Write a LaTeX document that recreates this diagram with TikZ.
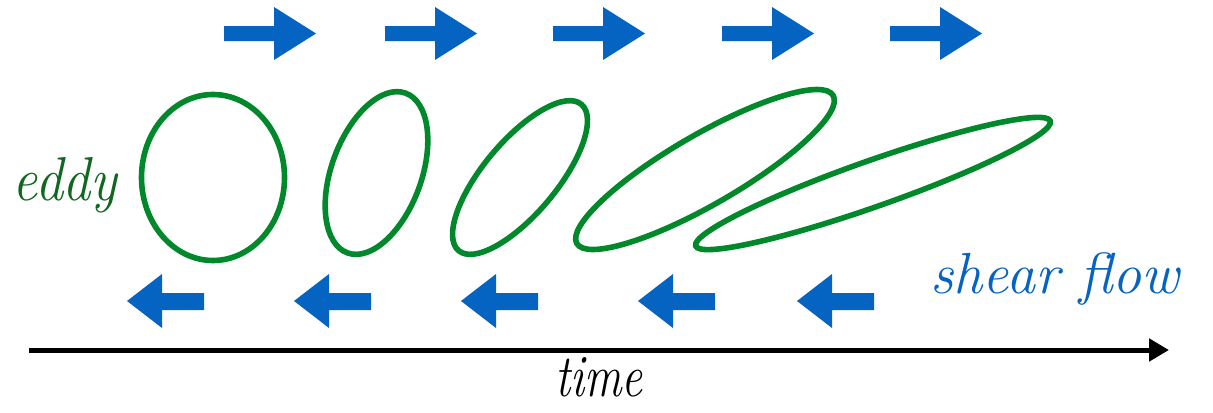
\documentclass[tikz,border=0pt]{standalone}
\usepackage{fontspec}
\usetikzlibrary{arrows.meta}
\definecolor{flowblue}{RGB}{5,99,193}
\definecolor{eddygreen}{RGB}{0,136,43}
\definecolor{wordgreen}{RGB}{16,104,32}

\begin{document}
\begin{tikzpicture}[x=0.5pt,y=-0.5pt,
        eddyline/.style={eddygreen, line width=2.8pt},
        word/.style={anchor=base, inner sep=0pt}]
    \useasboundingbox (0,0) rectangle (1213,412);
    % flow along the top, to the right
    \foreach \x in {224,385,553,722,890}
        \fill[flowblue] (\x,26) -- (\x+50,26) -- (\x+50,7) -- (\x+92,33.5) -- (\x+50,60) -- (\x+50,41) -- (\x,41) -- cycle;
    % flow along the bottom, to the left
    \foreach \x in {127,294,461,638,797}
        \fill[flowblue] (\x,301) -- (\x+35,274) -- (\x+35,293) -- (\x+77,293) -- (\x+77,310) -- (\x+35,310) -- (\x+35,328) -- cycle;
    % the eddy, stretched more and more
    \draw[eddyline] (213,177.5) ellipse [x radius=71.5, y radius=83];
    \draw[eddyline, rotate around={70:(376.5,173)}] (376.5,173) ellipse [x radius=85, y radius=45];
    \draw[eddyline, rotate around={50:(520,177.5)}] (520,177.5) ellipse [x radius=95.5, y radius=36.5];
    \draw[eddyline, rotate around={30:(705,169.5)}] (705,169.5) ellipse [x radius=148, y radius=35];
    \draw[eddyline, rotate around={19.4:(873,183.5)}] (873,183.5) ellipse [x radius=188, y radius=23];
    \node[word, wordgreen, font=\itshape\fontsize{31}{31}\selectfont, xscale=0.9] (eddy) at (65,200) {eddy};
    \node[word, flowblue, font=\itshape\fontsize{29}{29}\selectfont\addfontfeature{LetterSpace=7}] (shear) at (1055,293) {shear flow};
    % time axis
    \coordinate (t0) at (29,350);
    \coordinate (t1) at (1169,350);
    \draw[line width=2.5pt, -{Triangle[length=10pt,width=11pt]}] (t0) -- (t1);
    \node[word, font=\itshape\fontsize{30}{30}\selectfont, xscale=0.78] (time) at (599,396) {time};
\end{tikzpicture}
\end{document}
